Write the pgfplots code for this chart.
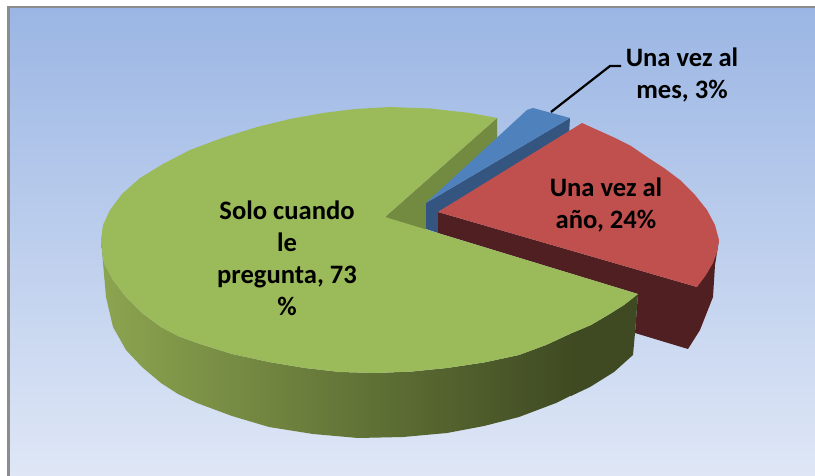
\documentclass[border=0pt]{standalone}
\usepackage{fontspec}
\setmainfont{Carlito}
\usepackage{pgfplots}
\pgfplotsset{compat=1.18}
\definecolor{bgtop}{HTML}{9BB6E4}
\definecolor{bgbot}{HTML}{DFE7F6}
\definecolor{framegray}{HTML}{8C8C8C}
\definecolor{gtop}{HTML}{9BBA59}
\definecolor{gwall}{HTML}{738A41}
\definecolor{gsidel}{HTML}{8CA550}
\definecolor{gsider}{HTML}{3F4A22}
\definecolor{rtop}{HTML}{C0504D}
\definecolor{rside}{HTML}{4F1F21}
\definecolor{btop}{HTML}{4F81BD}
\definecolor{bside}{HTML}{34557F}
\tikzset{lab/.style={font=\fontsize{26.6}{32}\selectfont\bfseries, align=center, text=black, inner sep=0pt}}
\begin{document}
\begin{tikzpicture}
\begin{axis}[
  scale only axis, width=815pt, height=476pt,
  xmin=0, xmax=815, ymin=0, ymax=476, y dir=reverse,
  hide axis, clip=true,
  every axis plot/.append style={draw=none, line width=0pt, mark=none},
]
% page
\addplot[fill=white] coordinates {(0,0)(815,0)(815,476)(0,476)} -- cycle;
% frame
\addplot[fill=framegray] coordinates {(7,6)(815,6)(815,476)(7,476)} -- cycle;
% background
\addplot[top color=bgtop, bottom color=bgbot] coordinates {(10,8.5)(815,8.5)(815,476)(10,476)} -- cycle;
% green inner wall
\addplot[fill=gwall] coordinates {(385,217)(497,118)(497,138)(426,204)(426,232)(385,225)} -- cycle;
% blue
\addplot[fill=bside] coordinates {(426,203)(570,118)(569,135)(438,212)(438,233)(426,229)} -- cycle;
\addplot[fill=btop] coordinates {(426,203)(527,110)(533,108)(570,118)} -- cycle;
% red side
\addplot[fill=rside] coordinates {(438,212)(438,233)(638,294)(635,333)(688,349)(700,330)(713,297)(715,265)(719,240)(697,287)} -- cycle;
% red top
\addplot[fill=rtop] coordinates {(438,212)(582,123)(613,137)(631,146)(647,157)(664,168)(680,180)(695,195)(707,210)(715,225)(719,240)(717,252)(713,263)(706,275)(697,287)} -- cycle;
% green side, left part with the gradient
\addplot[left color=gsidel, right color=gsider] coordinates {(101,240)(104,263)(113,280)(126,297)(142,313)(161,327)(178,336)(197,343)(232,354)(269,362)(305,368)(340,372)(376,373)(412,371.5)(447,368)(484,362.5)(519,355)(546,345)(572,333)(572,395)(556,403)(519,417)(484,426)(447,433)(403,437)(358,438)(313,434)(269,427)(232,416)(197,403)(178,394)(161,383)(142,367)(126,350)(113,327)(106,297)} -- cycle;
% green side, right part
\addplot[fill=gsider] coordinates {(571,333.5)(591,325)(608,315)(624,305)(638,294)(635,333)(633,355)(614,372)(590,387)(571,396)} -- cycle;
% green top
\addplot[fill=gtop] coordinates {(385,217)(497,118)(470,113)(430,108.5)(390,107)(355,109)(323,113)(290,119)(257,127)(222,138)(190,150)(163,164)(140,178)(122,194)(110,210)(103,225)(101,240)(104,263)(113,280)(126,297)(142,313)(161,327)(178,336)(197,343)(232,354)(269,362)(305,368)(340,372)(376,373)(412,371.5)(447,368)(484,362.5)(519,355)(546,345)(572,333)(591,325)(608,315)(624,305)(638,294)} -- cycle;
% leader
\addplot[draw=black, line width=2.2pt] coordinates {(551,112)(610,66)(621,66)};
% labels
\node[lab] at (axis cs:682,75) {Una vez al\\mes, 3\%};
\node[lab] at (axis cs:606,205) {Una vez al\\año, 24\%};
\node[lab] at (axis cs:287,258) {Solo cuando\\le\\pregunta, 73\\\%};
\end{axis}
\end{tikzpicture}
\end{document}
